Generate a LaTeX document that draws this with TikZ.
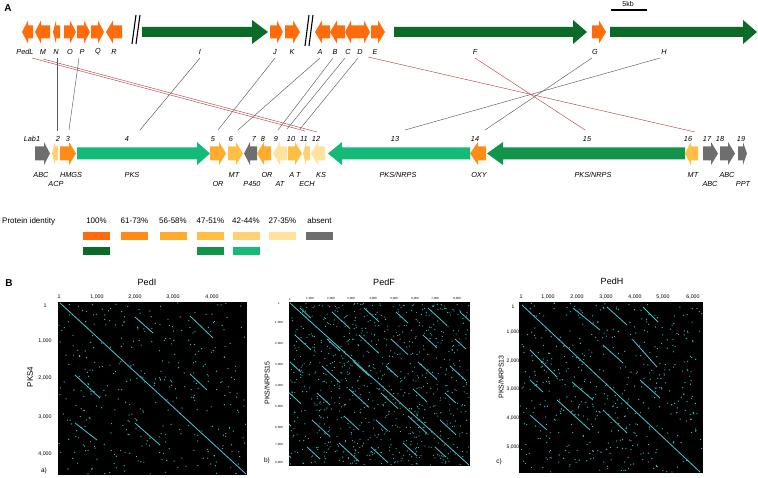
\documentclass[tikz,border=0pt]{standalone}
\usepackage{fontspec}
\setmainfont{Liberation Sans}
\definecolor{c100}{HTML}{FF6C0C}
\definecolor{c61}{HTML}{FF8C14}
\definecolor{c56}{HTML}{FFAB2E}
\definecolor{c47}{HTML}{FFBF45}
\definecolor{c42}{HTML}{FFD175}
\definecolor{c27}{HTML}{FFE29E}
\definecolor{cabs}{HTML}{6E6E6E}
\definecolor{g100}{HTML}{0A6A27}
\definecolor{g47}{HTML}{12954A}
\definecolor{g42}{HTML}{14BA78}
\definecolor{dotc}{HTML}{3CC8C0}
\definecolor{diagc}{HTML}{48C8D0}
\definecolor{redl}{HTML}{B04848}
\definecolor{greyl}{HTML}{5A5A5A}
% tail, head start, tip, y centre, body half height, head half height, colour
\newcommand\genearr[7]{\fill[#7] (#1,{#4-#5}) -- (#2,{#4-#5}) -- (#2,{#4-#6}) -- (#3,#4) -- (#2,{#4+#6}) -- (#2,{#4+#5}) -- (#1,{#4+#5}) -- cycle;}
\newcommand\topgene[3]{\genearr{#1}{#2}{#3}{32}{6.5}{11.5}{c100}}
\newcommand\topgreen[3]{\genearr{#1}{#2}{#3}{32}{5}{12}{g100}}
\newcommand\midgene[4]{\genearr{#1}{#2}{#3}{153.5}{7}{11.5}{#4}}
\newcommand\midgreen[4]{\genearr{#1}{#2}{#3}{153.5}{6}{11.5}{#4}}
\tikzset{
  lab/.style={font=\fontsize{7.3}{8}\selectfont\itshape, inner sep=0pt},
  leg/.style={font=\fontsize{8}{9}\selectfont, inner sep=0pt},
  sw/.style={draw=none, minimum width=27pt, minimum height=8pt, inner sep=0pt},
  gline/.style={greyl, line width=0.45pt},
  rline/.style={redl, line width=0.45pt},
  brk/.style={black, line width=1.1pt},
  diag/.style={diagc, line width=0.8pt},
  tick/.style={font=\fontsize{5.3}{6}\selectfont, inner sep=0pt},
  tinytick/.style={font=\fontsize{3}{3.5}\selectfont, inner sep=0pt},
  ptitle/.style={font=\fontsize{9}{10}\selectfont, inner sep=0pt},
  panel/.style={font=\fontsize{10}{11}\selectfont\bfseries, inner sep=0pt},
}
\begin{document}
\begin{tikzpicture}[x=1pt,y=-1pt]
\useasboundingbox (0,0) rectangle (758,478);
\node[panel] (pA) at (8,8) {A};
% ---------- top row ----------
\topgene{33}{28}{22}
\topgene{50}{41}{35}
\topgene{60}{56}{53}
\topgene{64}{70}{76}
\topgene{77}{84}{90}
\topgene{91}{98}{104}
\topgene{122}{113}{106}
\draw[brk] (136,15) -- (132,44);
\draw[brk] (140,15) -- (136,44);
\topgreen{142}{252}{268}
\topgene{270}{277}{283}
\topgene{285}{293}{300}
\draw[brk] (309,15) -- (305,46);
\draw[brk] (313,15) -- (309,46);
\topgene{330}{322}{315}
\topgene{345}{337}{330}
\topgene{358}{351}{345}
\topgene{358}{364}{370}
\topgene{371}{378}{385}
\topgreen{394}{573}{587}
\topgene{592}{599}{606}
\topgreen{610}{743}{757}
\draw[line width=1.1pt] (611,10) coordinate (sb1) -- (647,10) coordinate (sb2);
\node[font=\fontsize{7}{8}\selectfont, inner sep=0pt] (skb) at (628,4.5) {5kb};
\foreach \t/\x in {PedL/25,M/43,N/56,O/70,P/82,Q/98,R/114,I/200,J/275,K/292,A/320,B/335,C/348,D/360,E/375,F/475,G/595,H/664}
  \node[lab] (l\t) at (\x,52) {\t};
% ---------- middle row ----------
\midgene{35}{44}{50}{cabs}
\midgene{58}{55}{52}{c42}
\midgene{60}{69}{76}{c61}
\midgreen{77}{197}{210}{g42}
\midgene{210}{219}{226}{c56}
\midgene{228}{236}{243}{c47}
\midgene{257}{250}{244}{cabs}
\midgene{271}{264}{257}{c56}
\midgene{287}{280}{273}{c27}
\midgene{288}{295}{302}{c47}
\midgene{310}{306}{303}{c42}
\midgene{325}{318}{311}{c27}
\midgreen{470}{342}{328}{g42}
\midgene{486}{478}{470}{c61}
\midgreen{685}{503}{487}{g47}
\midgene{698}{691}{685}{c47}
\midgene{703}{711}{718}{cabs}
\midgene{720}{728}{735}{cabs}
\midgene{738}{743}{747}{cabs}
\node[lab] (nLab1) at (32,139) {Lab1};
\foreach \n/\x in {2/58,3/68,4/127,5/213,6/231,7/254,8/263,9/276,10/291,11/304,12/316,13/395,14/475,15/587,16/688,17/707,18/720,19/741}
  \node[lab] (n\n) at (\x,139) {\n};
\foreach \k/\t/\x/\y in {a/ABC/41/175,b/ACP/56/184,c/HMGS/71/175,d/PKS/132/175,e/OR/218/184,f/MT/234/175,g/P450/252/184,h/OR/267/175,i/AT/280/184,j/A T/295/175,k/ECH/307/184,l/KS/321/175,m/PKS\slash NRPS/398/175,n/OXY/479/175,o/PKS\slash NRPS/593/175,p/MT/693/175,q/ABC/710/184,r/ABC/727/175,s/PPT/743/184}
  \node[lab] (d\k) at (\x,\y) {\t};
% ---------- connectors ----------
\coordinate (tPedL) at (32,58);
\coordinate (tM) at (43,59);
\coordinate (tN) at (57,58);
\coordinate (tP) at (79,58);
\coordinate (tI) at (200,58);
\coordinate (tJ) at (275,58);
\coordinate (tA) at (320,58);
\coordinate (tB) at (333,58);
\coordinate (tC) at (345,58);
\coordinate (tD) at (358,58);
\coordinate (tE) at (368,57);
\coordinate (tF) at (475,58);
\coordinate (tG) at (592,58);
\coordinate (tH) at (660,58);
\coordinate (b2) at (57,131);
\coordinate (b3) at (69,130);
\coordinate (b4) at (140,130);
\coordinate (b5) at (218,130);
\coordinate (b6) at (238,130);
\coordinate (b9) at (278,130);
\coordinate (b10) at (287,129);
\coordinate (b11) at (300,129);
\coordinate (b11r) at (305,131);
\coordinate (b12) at (317,132);
\coordinate (b13) at (405,130);
\coordinate (b14) at (485,130);
\coordinate (b15) at (585,130);
\coordinate (b16) at (695,132);
\draw[gline] (tN) -- (b2);
\draw[gline] (tP) -- (b3);
\draw[gline] (tI) -- (b4);
\draw[gline] (tJ) -- (b5);
\draw[gline] (tA) -- (b6);
\draw[gline] (tB) -- (b9);
\draw[gline] (tC) -- (b10);
\draw[gline] (tD) -- (b11);
\draw[gline] (tG) -- (b14);
\draw[gline] (tH) -- (b13);
\draw[rline] (tPedL) -- (b11r);
\draw[rline] (tM) -- (b12);
\draw[rline] (tE) -- (b16);
\draw[rline] (tF) -- (b15);
% ---------- legend ----------
\node[leg, anchor=west] (legt) at (2,221) {Protein identity};
\foreach \k/\t/\x/\c in {1/100\%/96.5/c100,2/61-73\%/134.5/c61,3/56-58\%/173/c56,4/47-51\%/210.5/c47,5/42-44\%/246/c42,6/27-35\%/282.5/c27,7/absent/319.5/cabs}{
  \node[leg] (lp\k) at (\x,221) {\t};
  \node[sw, fill=\c] (sa\k) at (\x,236) {};
}
\node[sw, fill=g100] (sb1n) at (96.5,251.5) {};
\node[sw, fill=g47] (sb4n) at (210.5,251.5) {};
\node[sw, fill=g42] (sb5n) at (246,251.5) {};
% ---------- panel B ----------
\node[panel] (pB) at (9,283) {B};
\pgfmathsetseed{7}
% plot a
\node[ptitle] (ta) at (147,282) {PedI};
\fill[black] (58,302) rectangle (247,475);
\begin{scope}
\clip (58,302) rectangle (247,475);
\foreach \i in {1,...,360}{\fill[dotc] ({59+rnd*187},{303+rnd*171}) circle (0.65pt);}
\draw[diag] (60,303) -- (246,474);
\draw[diag] (135,317) -- (153,333);
\draw[diag] (190,316) -- (213,338);
\draw[diag] (75,375) -- (100,398);
\draw[diag] (190,374) -- (207,390);
\draw[diag] (75,423) -- (97,440);
\draw[diag] (135,423) -- (160,445);
\end{scope}
\foreach \t/\x in {1/59,1{,}000/97,2{,}000/135,3{,}000/173,4{,}000/212}
  \node[tick] at (\x,297) {\t};
\foreach \t/\y in {1/306,1{,}000/341,2{,}000/378,3{,}000/417,4{,}000/454}
  \node[tick] at (45,\y) {\t};
\node[font=\fontsize{8}{9}\selectfont, inner sep=0pt, rotate=90] (ya) at (30,377) {PKS4};
\node[font=\fontsize{6.5}{7}\selectfont, inner sep=0pt] (ca) at (44,471) {a)};
% plot b
\node[ptitle] (tb) at (384,282) {PedF};
\fill[black] (289,302) rectangle (470,466);
\begin{scope}
\clip (289,302) rectangle (470,466);
\foreach \i in {1,...,800}{\fill[dotc] ({290+rnd*179},{303+rnd*162}) circle (0.6pt);}
\draw[diag] (290,303) -- (469,465);
\foreach \i in {0,...,5}{\foreach \j in {0,...,5}{
  \pgfmathsetmacro\xs{300+32*\i-5*\j}
  \pgfmathsetmacro\ys{308+27*\j+4*mod(\i,2)}
  \pgfmathsetmacro\L{11+mod(\i*7+\j*5,10)}
  \draw[diag] (\xs,\ys) -- ++(\L,{\L*0.92});
}}
\end{scope}
\node[tinytick] at (290,299) {1};
\foreach \t/\x in {1{,}000/310,2{,}000/331,3{,}000/351,4{,}000/373,5{,}000/394,6{,}000/415,7{,}000/435,8{,}000/457}
  \node[tinytick] at (\x,299) {\t};
\foreach \t/\y in {1/303,1{,}000/323,2{,}000/344,3{,}000/365,4{,}000/386,5{,}000/407,6{,}000/428,7{,}000/445,8{,}000/463}
  \node[tinytick] at (279,\y) {\t};
\node[font=\fontsize{7}{8}\selectfont, inner sep=0pt, rotate=90] (yb) at (267,383) {PKS/NRPS15};
\node[font=\fontsize{6.5}{7}\selectfont, inner sep=0pt] (cb) at (267,461) {b)};
% plot c
\node[ptitle] (tc) at (612,281) {PedH};
\fill[black] (519,302) rectangle (703,473);
\begin{scope}
\clip (519,302) rectangle (703,473);
\foreach \i in {1,...,480}{\fill[dotc] ({520+rnd*182},{303+rnd*169}) circle (0.65pt);}
\draw[diag] (522,305) -- (700,472);
\draw[diag] (573,308) -- (600,330);
\draw[diag] (607,307) -- (627,325);
\draw[diag] (643,307) -- (658,322);
\draw[diag] (530,350) -- (557,377);
\draw[diag] (603,345) -- (623,363);
\draw[diag] (633,340) -- (657,367);
\draw[diag] (530,380) -- (543,392);
\draw[diag] (572,382) -- (593,400);
\draw[diag] (640,380) -- (660,398);
\draw[diag] (530,415) -- (547,430);
\draw[diag] (557,400) -- (590,430);
\draw[diag] (603,410) -- (627,433);
\end{scope}
\foreach \t/\x in {1/521,1{,}000/548,2{,}000/577,3{,}000/606,4{,}000/635,5{,}000/663,6{,}000/693}
  \node[tick] at (\x,297) {\t};
\foreach \t/\y in {1/307,1{,}000/332,2{,}000/361,3{,}000/389,4{,}000/418,5{,}000/447}
  \node[tick, font=\fontsize{5}{6}\selectfont] at (513,\y) {\t};
\node[font=\fontsize{7}{8}\selectfont, inner sep=0pt, rotate=90] (yc) at (501,377) {PKS/NRPS13};
\node[font=\fontsize{6.5}{7}\selectfont, inner sep=0pt] (cc) at (499,462) {c)};
\end{tikzpicture}
\end{document}
